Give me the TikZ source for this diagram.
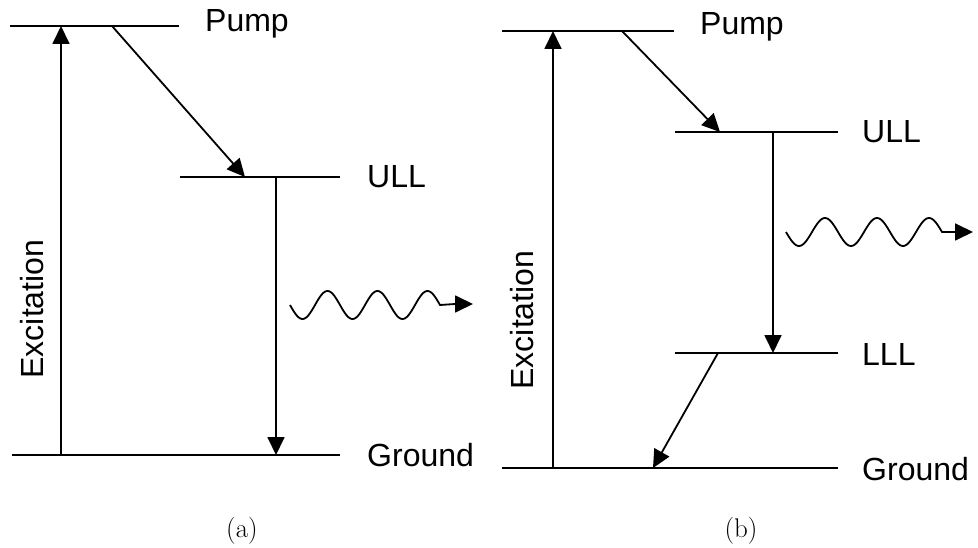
\documentclass[tikz,border=0pt]{standalone}
\usepackage{fontspec}
\newfontfamily\lblfont{Liberation Sans}
\newfontfamily\capfont{Latin Modern Roman}
\usetikzlibrary{arrows.meta}
\begin{document}
\begin{tikzpicture}[x=1pt,y=-1pt,
  level/.style={line width=1.8pt},
  trans/.style={line width=1.8pt,-{Triangle[length=18pt,width=17pt]}},
  lbl/.style={font=\lblfont\fontsize{32}{38}\selectfont,anchor=base west,inner sep=0pt},
  subcap/.style={inner sep=0pt}]
\useasboundingbox (0,0) rectangle (978,548);
% ---------- (a) ----------
\coordinate (aP1) at (10,26);   \coordinate (aP2) at (179,26);
\coordinate (aU1) at (180,177); \coordinate (aU2) at (340,177);
\coordinate (aG1) at (12,455);  \coordinate (aG2) at (340,455);
\draw[level] (aP1) -- (aP2);
\draw[level] (aU1) -- (aU2);
\draw[level] (aG1) -- (aG2);
\node[lbl] (aPl) at (205,32) {Pump};
\node[lbl] (aUl) at (367,188) {ULL};
\node[lbl] (aGl) at (367,466) {Ground};
\coordinate (aEx0) at (61,455); \coordinate (aEx1) at (61,26);
\draw[trans] (aEx0) -- (aEx1);
\coordinate (aD0) at (112,26); \coordinate (aD1) at (245,177);
\draw[trans] (aD0) -- (aD1);
\coordinate (aL0) at (276,177); \coordinate (aL1) at (276,455);
\draw[trans] (aL0) -- (aL1);
\node[rotate=90,font=\lblfont\fontsize{32}{38}\selectfont,inner sep=0pt] (aExl) at (32,309) {Excitation};
\coordinate (aW1) at (473,304);
\draw[line width=1.8pt,-{Triangle[length=18pt,width=17pt]}]
  plot[smooth,domain=0:150,samples=120] ({290+\x},{305+14*sin(7.2*\x)}) -- (455,304) -- (aW1);
\node[subcap] (capa) at (242,531) {\capfont\fontsize{27}{32}\selectfont (a)};
% ---------- (b) ----------
\coordinate (bP1) at (502,31);  \coordinate (bP2) at (674,31);
\coordinate (bU1) at (675,132); \coordinate (bU2) at (838,132);
\coordinate (bL1) at (675,353); \coordinate (bL2) at (838,353);
\coordinate (bG1) at (502,468); \coordinate (bG2) at (838,468);
\draw[level] (bP1) -- (bP2);
\draw[level] (bU1) -- (bU2);
\draw[level] (bL1) -- (bL2);
\draw[level] (bG1) -- (bG2);
\node[lbl] (bPl) at (700,35) {Pump};
\node[lbl] (bUl) at (862,143) {ULL};
\node[lbl] (bLl) at (862,365) {LLL};
\node[lbl] (bGl) at (862,480) {Ground};
\coordinate (bEx0) at (553,468); \coordinate (bEx1) at (553,31);
\draw[trans] (bEx0) -- (bEx1);
\coordinate (bD0) at (622,31); \coordinate (bD1) at (720,132);
\draw[trans] (bD0) -- (bD1);
\coordinate (bM0) at (773,132); \coordinate (bM1) at (773,353);
\draw[trans] (bM0) -- (bM1);
\coordinate (bN0) at (718,353); \coordinate (bN1) at (653,468);
\draw[trans] (bN0) -- (bN1);
\node[rotate=90,font=\lblfont\fontsize{32}{38}\selectfont,inner sep=0pt] (bExl) at (522,320) {Excitation};
\coordinate (bW1) at (973,232);
\draw[line width=1.8pt,-{Triangle[length=18pt,width=17pt]}]
  plot[smooth,domain=0:156,samples=120] ({786+\x},{232+14*sin(6.923*\x)}) -- (955,232) -- (bW1);
\node[subcap] (capb) at (741,531) {\capfont\fontsize{27}{32}\selectfont (b)};
\end{tikzpicture}
\end{document}
